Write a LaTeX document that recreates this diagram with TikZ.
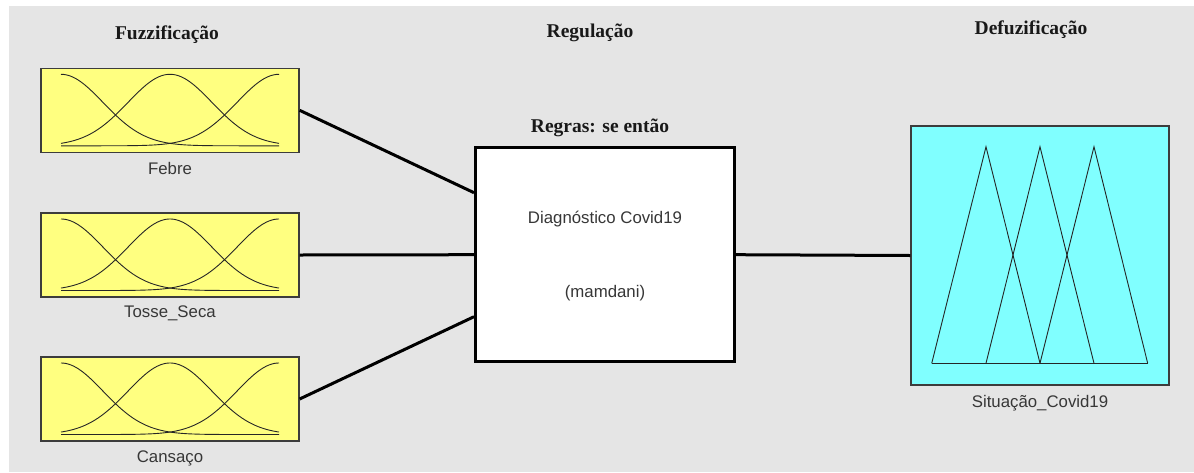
\documentclass[tikz,border=0pt]{standalone}
\usepackage{fontspec}
\setmainfont{Liberation Serif}
\setsansfont{Liberation Sans}
\usetikzlibrary{calc}
\definecolor{panelgrey}{RGB}{229,229,229}
\definecolor{mfyellow}{RGB}{255,255,128}
\definecolor{mfcyan}{RGB}{128,255,255}
\definecolor{labelgrey}{RGB}{55,55,55}
\definecolor{edgegrey}{RGB}{60,60,60}
\tikzset{
  inbox/.style={draw=edgegrey, fill=mfyellow, line width=1.3pt, minimum width=258pt, minimum height=84pt, inner sep=0pt},
  outbox/.style={draw=edgegrey, fill=mfcyan, line width=1.3pt, minimum width=258pt, minimum height=259pt, inner sep=0pt},
  rulebox/.style={draw=black, fill=white, line width=3pt, minimum width=259pt, minimum height=214pt, inner sep=0pt},
  heading/.style={font=\fontsize{19.5}{23}\selectfont\bfseries, text=black!90},
  varlabel/.style={font=\sffamily\fontsize{16.8}{20}\selectfont, text=labelgrey},
  conn/.style={line width=3pt, black},
  mfcurve/.style={line width=0.9pt, black!85}
}
\begin{document}
\begin{tikzpicture}[x=1pt, y=-1pt]
  \useasboundingbox (0,0) rectangle (1194,472);
  \fill[white] (0,0) rectangle (1194,472);
  \fill[panelgrey] (9,6) rectangle (1194,472);

  % section headings
  \node[heading] (hfuz) at (167,35) {Fuzzificação};
  \node[heading] (hreg) at (590,33) {Regulação};
  \node[heading] (hdef) at (1031,30) {Defuzificação};

  % input variables
  \node[inbox] (f1) at (170,110.3) {};
  \node[inbox] (f2) at (170,255) {};
  \node[inbox] (f3) at (170,399) {};
  \node[varlabel] (l1) at (170,168) {Febre};
  \node[varlabel] (l2) at (170,313) {Tosse\_Seca};
  \node[varlabel] (l3) at (170,458) {Cansaço};

  % gaussian membership functions in each input box
  \foreach \b in {f1,f2,f3}{
    \begin{scope}[shift={(\b.center)}]
      \foreach \m in {-109,0,109}{
        \draw[mfcurve] plot[domain=-109:109, samples=90, smooth]
          (\x, {35.5 - 71.5*exp(-0.5*((\x-\m)/42)*((\x-\m)/42))});
      }
    \end{scope}
  }

  % rule block
  \node[rulebox] (rules) at (605,254.7) {};
  \node[heading] (hrules) at (600,128) {Regras: se então};
  \node[font=\sffamily\fontsize{16.8}{20}\selectfont, text=labelgrey] (rname) at (605,219) {Diagnóstico Covid19};
  \node[font=\sffamily\fontsize{16.8}{20}\selectfont, text=labelgrey] (rtype) at (605,293) {(mamdani)};

  % output variable
  \node[outbox] (out) at (1040,255.5) {};
  \node[varlabel] (lout) at (1040,403) {Situação\_Covid19};
  \begin{scope}[shift={(out.center)}, line width=0.9pt, black!85]
    \draw (-108.3,107.8) -- (-54,-108.8) -- (0,107.8);
    \draw (-54,107.8) -- (0,-108.8) -- (54,107.8);
    \draw (0,107.8) -- (54,-108.8) -- (107.7,107.8);
    \draw (-108.3,107.8) -- (107.7,107.8);
  \end{scope}

  % connectors
  \draw[conn] (f1.east) -- ([yshift=62pt]rules.west);
  \draw[conn] (f2.east) -- (rules.west);
  \draw[conn] (f3.east) -- ([yshift=-62pt]rules.west);
  \draw[conn] (rules.east) -- (out.west);
\end{tikzpicture}
\end{document}
